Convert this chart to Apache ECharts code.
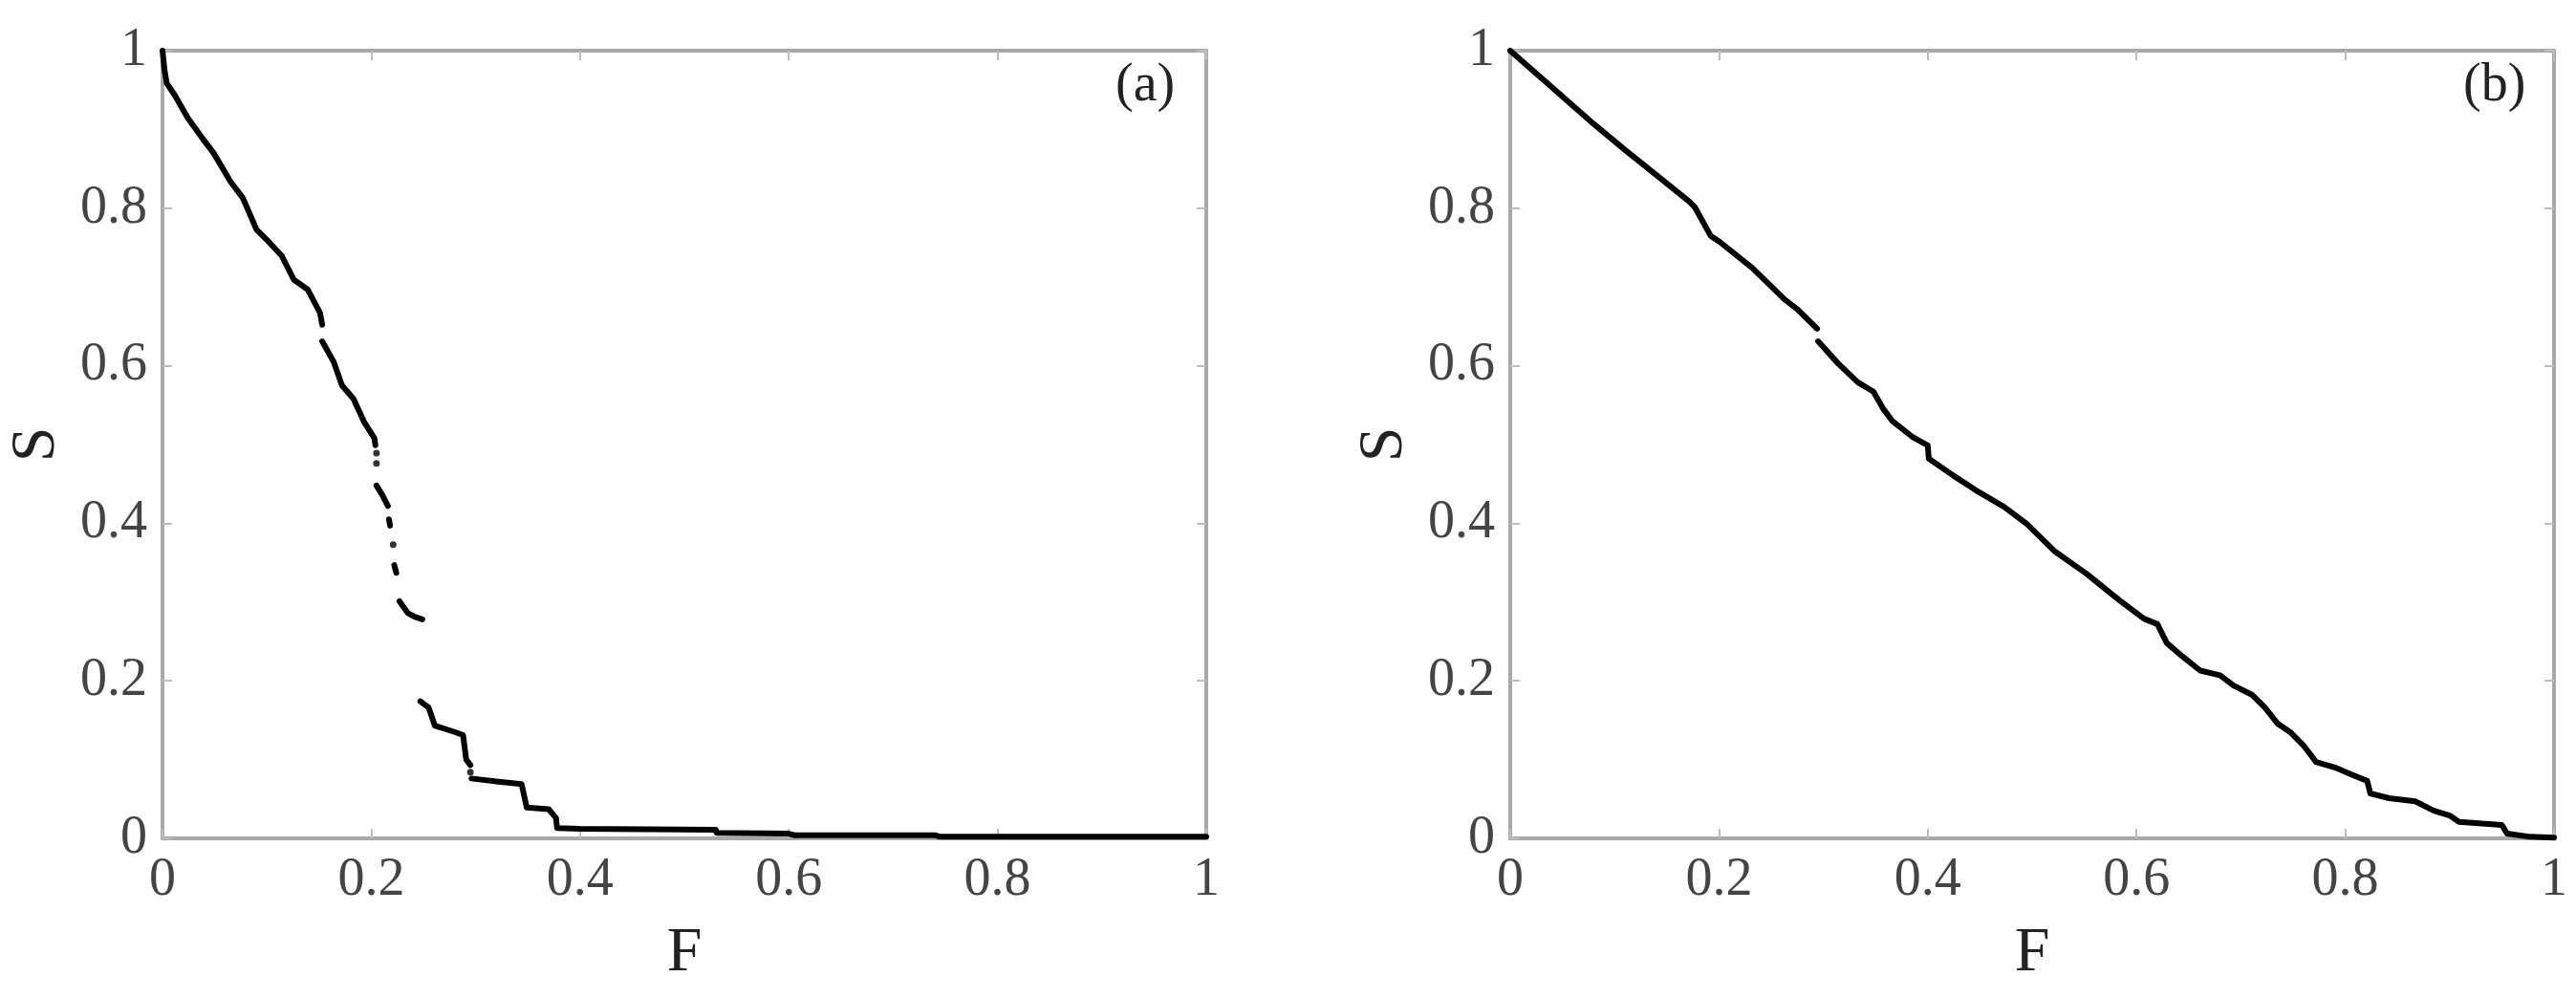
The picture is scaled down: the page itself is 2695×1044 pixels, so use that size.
<!DOCTYPE html>
<html>
<head>
<meta charset="utf-8">
<script src="https://cdn.jsdelivr.net/npm/echarts@6/dist/echarts.min.js"></script>
<style>
html,body{margin:0;padding:0;background:#fff;}
#chart{width:2695px;height:1044px;}
</style>
</head>
<body>
<div id="chart"></div>
<script>
// ---- data (F, S); null = gap in the trace ----
const tickValues = [0, 0.2, 0.4, 0.6, 0.8, 1];
const panelLabels = ['(a)', '(b)'];

// panel (a): continuous pieces of the trace
const aCurve = [
  [0,1],[0.002,0.975],[0.004,0.959],[0.012,0.943],[0.024,0.915],[0.037,0.891],
  [0.049,0.870],[0.065,0.834],[0.077,0.813],[0.090,0.773],[0.102,0.757],[0.114,0.740],
  [0.126,0.709],[0.139,0.697],[0.151,0.667],[0.153,0.652],
  null,
  [0.153,0.631],[0.164,0.605],[0.172,0.575],[0.183,0.558],[0.193,0.529],[0.203,0.508],[0.204,0.499],
  null,
  [0.205,0.448],[0.211,0.435],[0.216,0.422],
  null,
  [0.217,0.405],[0.218,0.397],
  null,
  [0.222,0.347],[0.224,0.337],
  null,
  [0.227,0.301],[0.235,0.286],[0.242,0.281],[0.249,0.278],
  null,
  [0.247,0.174],[0.255,0.166],[0.261,0.143],[0.280,0.135],[0.288,0.131],[0.291,0.100],[0.295,0.093],
  null,
  [0.296,0.076],[0.322,0.072],[0.344,0.069],[0.349,0.039],[0.370,0.037],[0.377,0.026],
  [0.378,0.013],[0.400,0.012],[0.530,0.011],[0.531,0.007],[0.600,0.006],[0.605,0.004],
  [0.740,0.004],[0.745,0.002],[1.000,0.002]
];
// panel (a): isolated points
const aDots = [[0.205,0.489],[0.205,0.476],[0.221,0.373],[0.295,0.084]];

// panel (b)
const bCurve = [
  [0,1],[0.049,0.943],[0.080,0.907],[0.110,0.874],[0.140,0.842],[0.171,0.809],[0.177,0.801],
  [0.192,0.765],[0.201,0.757],[0.232,0.724],[0.263,0.684],[0.275,0.672],[0.294,0.647],
  null,
  [0.295,0.631],[0.314,0.603],[0.333,0.579],[0.348,0.567],[0.357,0.546],[0.366,0.530],
  [0.385,0.510],[0.400,0.499],[0.401,0.482],[0.424,0.461],[0.446,0.442],[0.473,0.421],
  [0.495,0.399],[0.522,0.364],[0.552,0.336],[0.583,0.303],[0.607,0.279],[0.620,0.272],
  [0.629,0.248],[0.644,0.231],[0.661,0.213],[0.680,0.207],[0.693,0.194],[0.711,0.182],
  [0.723,0.166],[0.735,0.146],[0.748,0.134],[0.760,0.118],[0.772,0.097],[0.790,0.090],
  [0.806,0.081],[0.821,0.073],[0.824,0.057],[0.842,0.051],[0.867,0.047],[0.885,0.035],
  [0.900,0.029],[0.909,0.021],[0.950,0.017],[0.955,0.006],[0.977,0.002],[1.000,0.001]
];

// ---- build chart ----
const FONT = "'Liberation Serif','Times New Roman',serif";
const AXIS_COLOR = '#a8a8a8';
const toSeriesData = arr => arr.map(p => p === null ? ['-','-'] : p);

function xAxes(gi) {
  const base = {
    type:'value', gridIndex:gi, min:0, max:1, interval:0.2,
    splitLine:{show:false},
    axisLine:{show:true, onZero:false, lineStyle:{color:AXIS_COLOR, width:4}},
    axisTick:{show:true, inside:true, length:10, lineStyle:{color:'#bdbdbd', width:2}}
  };
  return [
    Object.assign({}, base, {
      position:'bottom',
      axisLabel:{fontFamily:FONT, fontSize:56, color:'#444', margin:16},
      name:'F', nameLocation:'middle', nameGap:88,
      nameTextStyle:{fontFamily:FONT, fontSize:66, color:'#222'}
    }),
    Object.assign({}, base, {position:'top', axisLabel:{show:false}})
  ];
}
function yAxes(gi) {
  const base = {
    type:'value', gridIndex:gi, min:0, max:1, interval:0.2,
    splitLine:{show:false},
    axisLine:{show:true, onZero:false, lineStyle:{color:AXIS_COLOR, width:4}},
    axisTick:{show:true, inside:true, length:10, lineStyle:{color:'#bdbdbd', width:2}}
  };
  return [
    Object.assign({}, base, {
      position:'left',
      axisLabel:{fontFamily:FONT, fontSize:56, color:'#444', margin:16},
      name:'S', nameLocation:'middle', nameGap:98, nameRotate:90,
      nameTextStyle:{fontFamily:FONT, fontSize:66, color:'#222'}
    }),
    Object.assign({}, base, {position:'right', axisLabel:{show:false}})
  ];
}

const lineStyle = {color:'#000', width:6, join:'round', cap:'round'};

const option = {
  animation:false,
  backgroundColor:'#fff',
  grid:[
    {left:170, top:53, width:1092, height:824},
    {left:1580, top:53, width:1092, height:824}
  ],
  xAxis:[...xAxes(0), ...xAxes(1)],
  yAxis:[...yAxes(0), ...yAxes(1)],
  graphic:[
    {type:'text', left:1167, top:62, style:{text:panelLabels[0], font:"500 56px 'Liberation Serif'", fill:'#222'}},
    {type:'text', left:2577, top:62, style:{text:panelLabels[1], font:"500 56px 'Liberation Serif'", fill:'#222'}}
  ],
  series:[
    {type:'line', xAxisIndex:0, yAxisIndex:0, data:toSeriesData(aCurve), showSymbol:false,
     connectNulls:false, lineStyle:lineStyle, z:5},
    {type:'scatter', xAxisIndex:0, yAxisIndex:0, data:aDots, symbol:'circle', symbolSize:7,
     itemStyle:{color:'#000'}, z:5},
    {type:'line', xAxisIndex:2, yAxisIndex:2, data:toSeriesData(bCurve), showSymbol:false,
     connectNulls:false, lineStyle:lineStyle, z:5}
  ]
};

const chart = echarts.init(document.getElementById('chart'), null, {renderer:'canvas'});
chart.setOption(option);
</script>
</body>
</html>
